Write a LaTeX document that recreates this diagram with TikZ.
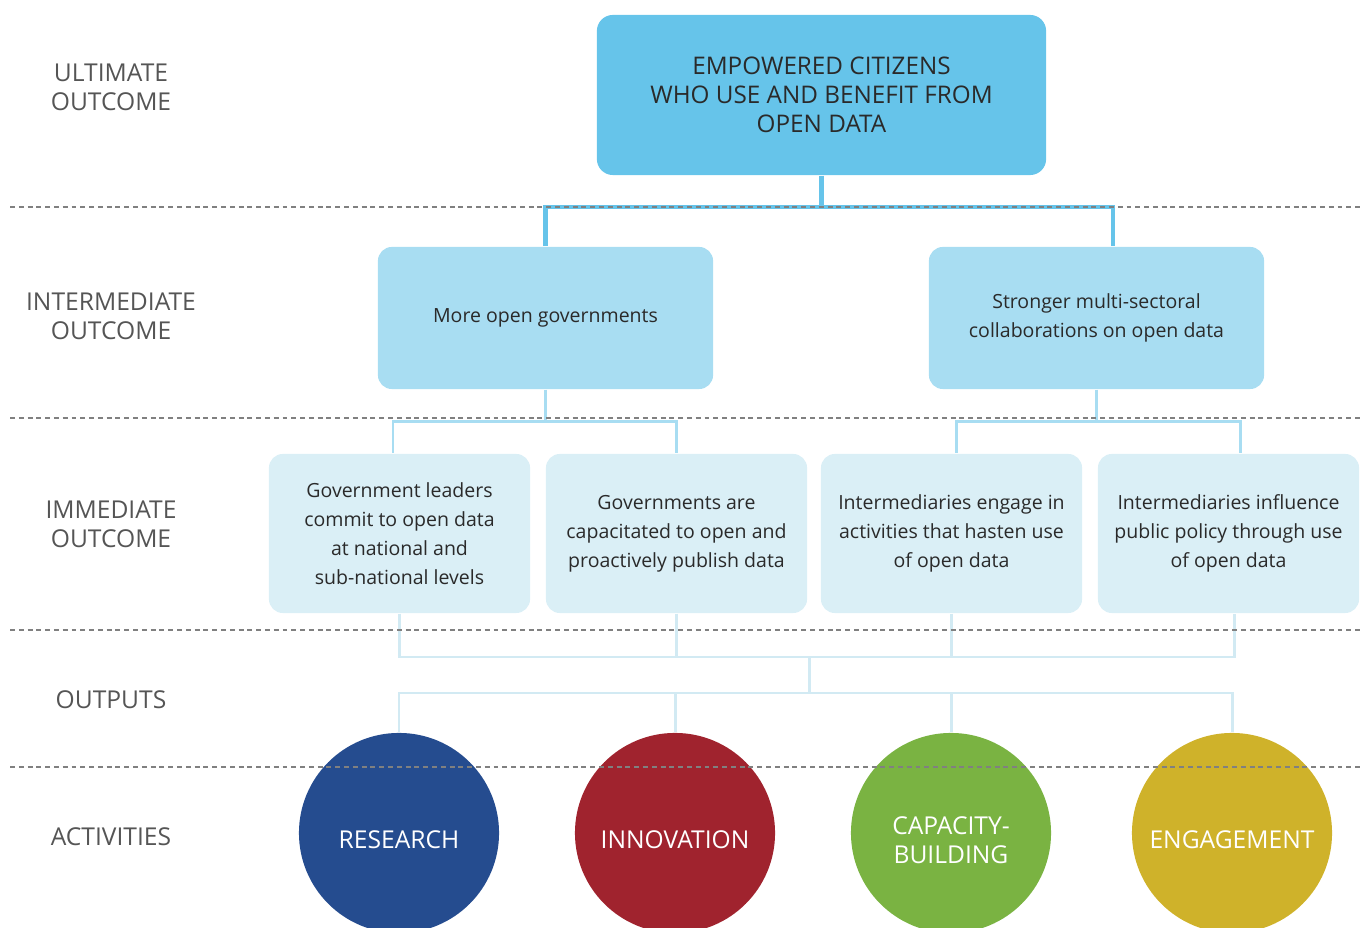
\documentclass[tikz,border=0pt]{standalone}
\usepackage{fontspec}
\setmainfont{Open Sans}
\usetikzlibrary{positioning}
\definecolor{ultfill}{HTML}{66C4EA}
\definecolor{intfill}{HTML}{A8DDF2}
\definecolor{immfill}{HTML}{DAEFF6}
\definecolor{immline}{HTML}{D2EAF3}
\definecolor{labgray}{HTML}{555555}
\definecolor{boxtext}{HTML}{2A2A2A}
\definecolor{resblue}{HTML}{254C8F}
\definecolor{innred}{HTML}{A0232E}
\definecolor{capgreen}{HTML}{7AB342}
\definecolor{engyellow}{HTML}{CFB22A}

\begin{document}
\begin{tikzpicture}[x=0.01cm, y=-0.01cm,
  level/.style={text=labgray, font=\fontsize{7}{8.25}\selectfont, align=center},
  ultbox/.style={fill=ultfill, rounded corners=0.16cm, minimum width=4.49cm, minimum height=1.6cm,
    align=center, text=boxtext, font=\fontsize{6.9}{8.25}\selectfont},
  intbox/.style={fill=intfill, rounded corners=0.14cm, minimum width=3.35cm, minimum height=1.42cm,
    align=center, text=boxtext, font=\fontsize{5.55}{8.25}\selectfont},
  immbox/.style={fill=immfill, rounded corners=0.14cm, minimum width=2.61cm, minimum height=1.59cm,
    align=center, text=boxtext, font=\fontsize{5.55}{8.25}\selectfont},
  activity/.style={circle, minimum size=2cm, inner sep=0pt},
  actlabel/.style={text=white, align=center, yshift=-0.07cm, font=\fontsize{7}{8.25}\selectfont},
  ultconn/.style={draw=ultfill, line width=1.15pt},
  intconn/.style={draw=intfill, line width=0.85pt},
  immconn/.style={draw=immline, line width=0.85pt},
  divider/.style={draw=gray, line width=0.4pt, dash pattern=on 1.4pt off 1.1pt}]
\useasboundingbox (0,0) rectangle (1360,928);

% level labels
\node[level] (lult) at (111,87) {ULTIMATE\\OUTCOME};
\node[level] (lint) at (111,316) {INTERMEDIATE\\OUTCOME};
\node[level] (limm) at (111,524) {IMMEDIATE\\OUTCOME};
\node[level] (lout) at (111,700) {OUTPUTS};
\node[level] (lact) at (111,837) {ACTIVITIES};

% outcome boxes
\node[ultbox] (ult) at (821.5,95) {EMPOWERED CITIZENS\\WHO USE AND BENEFIT FROM\\OPEN DATA};
\node[intbox] (intl) at (545.5,318) {More open governments};
\node[intbox] (intr) at (1096.5,318) {Stronger multi-sectoral\\collaborations on open data};
\node[immbox] (imm1) at (399.5,533.5) {Government leaders\\commit to open data\\at national and\\sub-national levels};
\node[immbox] (imm2) at (676.5,533.5) {Governments are\\capacitated to open and\\proactively publish data};
\node[immbox] (imm3) at (951.5,533.5) {Intermediaries engage in\\activities that hasten use\\of open data};
\node[immbox] (imm4) at (1228.5,533.5) {Intermediaries influence\\public policy through use\\of open data};

% activities
\node[activity, fill=resblue, label={[actlabel]center:RESEARCH}] (act1) at (399,833) {};
\node[activity, fill=innred, label={[actlabel]center:INNOVATION}] (act2) at (675,833) {};
\node[activity, fill=capgreen, label={[actlabel]center:CAPACITY-\\BUILDING}] (act3) at (951,833) {};
\node[activity, fill=engyellow, label={[actlabel]center:ENGAGEMENT}] (act4) at (1232,833) {};

% connectors
\coordinate (jult) at (821.5,207);
\coordinate (jintl) at (545.5,422);
\coordinate (jintr) at (1096.5,422);
\coordinate (jimm) at (809,657);
\coordinate (jact) at (809,693);
\draw[ultconn] (ult.south) -- (jult);
\draw[ultconn] (intl.north) |- (jult) -| ([xshift=0.165cm]intr.north);
\draw[intconn] (intl.south) -- (jintl);
\draw[intconn] ([xshift=-0.065cm]imm1.north) |- (jintl) -| (imm2.north);
\draw[intconn] (intr.south) -- (jintr);
\draw[intconn] ([xshift=0.045cm]imm3.north) |- (jintr) -| ([xshift=0.115cm]imm4.north);
\draw[immconn] (imm1.south) |- (jimm) -| ([xshift=0.055cm]imm4.south);
\foreach \i in {2,3} \draw[immconn] (imm\i.south) -- (imm\i.south |- jimm);
\draw[immconn] (jimm) -- (jact);
\draw[immconn] (act1.north) |- (jact) -| (act4.north);
\foreach \i in {2,3} \draw[immconn] (act\i.north) -- (act\i.north |- jact);

% dividers
\foreach \y in {207,418,630,767} \draw[divider] (10,\y) -- (1360,\y);
\end{tikzpicture}
\end{document}
